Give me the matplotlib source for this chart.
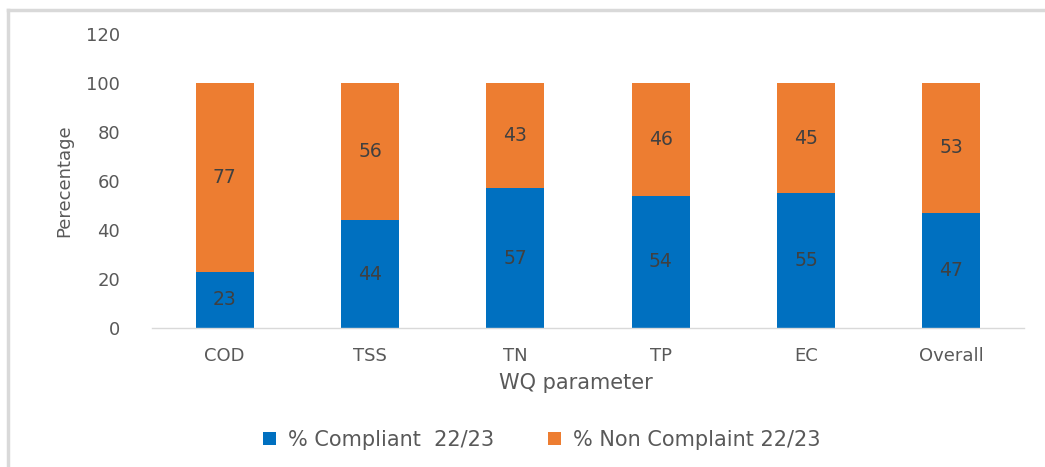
import matplotlib
matplotlib.use("Agg")
import matplotlib.pyplot as plt
from matplotlib.lines import Line2D

categories = ["COD", "TSS", "TN", "TP", "EC", "Overall"]
compliant = [23, 44, 57, 54, 55, 47]
non_compliant = [77, 56, 43, 46, 45, 53]
yticks = [0, 20, 40, 60, 80, 100, 120]

plt.rcParams['font.family'] = ['DejaVu Sans']
txt = '#595959'
blue = '#0070C0'
orange = '#ED7D31'

W, H = 1045, 467
fig = plt.figure(figsize=(W/100, H/100), dpi=100)
ax = fig.add_axes([152/W, 1-328/H, (1024-152)/W, (328-34)/H])

x = list(range(len(categories)))
ax.bar(x, compliant, width=0.4, color=blue, label='% Compliant  22/23')
ax.bar(x, non_compliant, width=0.4, bottom=compliant, color=orange, label='% Non Complaint 22/23')

for i in x:
    ax.text(i, compliant[i]/2, str(compliant[i]), ha='center', va='center', fontsize=13.5, color='#404040')
    ax.text(i, compliant[i] + non_compliant[i]/2, str(non_compliant[i]), ha='center', va='center', fontsize=13.5, color='#404040')

ax.set_xlim(-0.5, len(categories)-0.5)
ax.set_ylim(0, 120)
ax.set_yticks(yticks)
ax.set_xticks(x)
ax.set_xticklabels(categories)
ax.tick_params(axis='both', length=0, labelsize=13, colors=txt)
ax.tick_params(axis='y', pad=23)
ax.tick_params(axis='x', pad=14)
for s in ['top', 'right', 'left']:
    ax.spines[s].set_visible(False)
ax.spines['bottom'].set_color('#D9D9D9')
ax.spines['bottom'].set_linewidth(1)

ax.set_ylabel('Perecentage', fontsize=13, color=txt, labelpad=9)
ax.set_xlabel('WQ parameter', fontsize=15, color=txt, labelpad=8)
ax.xaxis.set_label_coords((576-152)/(1024-152), -(383-328)/(328-34), transform=ax.transAxes)
ax.xaxis.label.set_va('center')

ax.legend(loc='center', bbox_to_anchor=(542/W, 1-440/H), bbox_transform=fig.transFigure,
          ncol=2, frameon=False, fontsize=15, labelcolor=txt, handlelength=0.6, handleheight=0.6,
          columnspacing=2.6, handletextpad=0.6)

# outer border
fig.add_artist(Line2D([8/W, 8/W], [0, 1-10/H], color='#D9D9D9', lw=2.5, transform=fig.transFigure))
fig.add_artist(Line2D([8/W, 1], [1-10/H, 1-10/H], color='#D9D9D9', lw=2.5, transform=fig.transFigure))

fig.savefig('out.png', dpi=100)
